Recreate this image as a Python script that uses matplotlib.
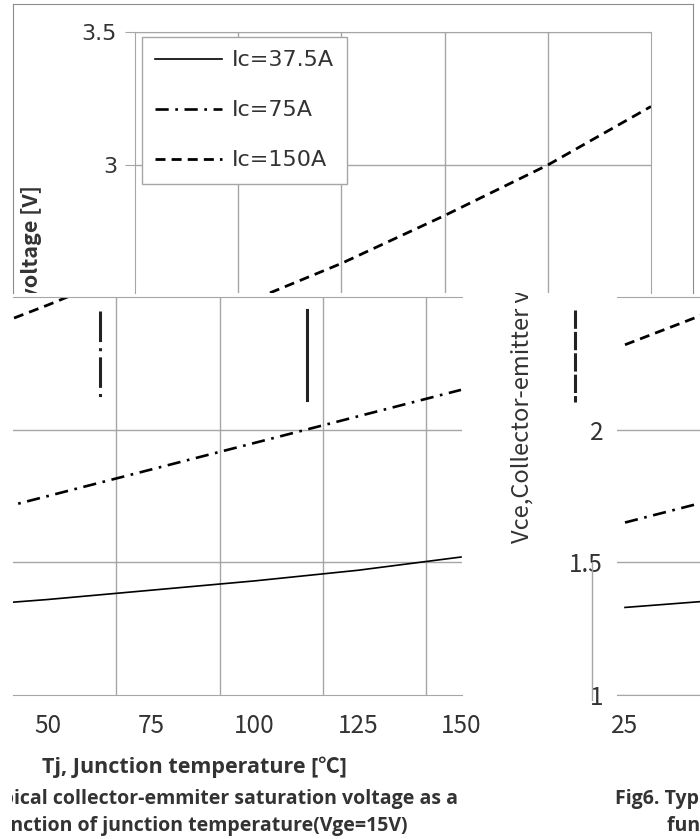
import matplotlib
matplotlib.use('Agg')
import matplotlib.pyplot as plt

W, H = 700, 839

# Vce(sat) vs junction temperature
tj = [25, 50, 75, 100, 125, 150]
vce_37 = [1.33, 1.36, 1.395, 1.43, 1.47, 1.52]
vce_75 = [1.65, 1.75, 1.85, 1.95, 2.05, 2.15]
vce_150 = [2.32, 2.47, 2.63, 2.81, 3.00, 3.22]
labels = ['Ic=37.5A', 'Ic=75A', 'Ic=150A']
series = [vce_37, vce_75, vce_150]

ylabel_text = 'Vce,Collector-emitter voltage [V]'
xlabel_text = 'Tj, Junction temperature [℃]'
caption1 = 'Fig6. Typical collector-emmiter saturation voltage as a'
caption2 = 'function of junction temperature(Vge=15V)'

GRID = '#a6a6a6'
TXT = '#333333'
plt.rcParams['font.family'] = ['Noto Sans CJK SC', 'DejaVu Sans']
TOP_FONT = ['DejaVu Sans']
CAP_FONT = ['Open Sans', 'Noto Sans CJK SC', 'DejaVu Sans']

styles = [dict(ls='-', lw=1.2),
          dict(ls=(0, (5, 2.5, 1, 2.5)), lw=1.9),
          dict(ls=(0, (3.6, 2.2)), lw=2.0)]

PX = 4.13          # pixels per degC
PV = 133 / 0.5     # pixels per volt


def rect(x0, y0, x1, y1):
    return [x0 / W, 1 - y1 / H, (x1 - x0) / W, (y1 - y0) / H]


def piece(x0, y0, x1, y1):
    # invisible axes in pixel coords, used to clip the collage pieces
    ax = fig.add_axes(rect(x0, y0, x1, y1))
    ax.set_xlim(x0, x1)
    ax.set_ylim(y1, y0)
    ax.axis('off')
    return ax


def draw_curves(ax):
    for ys, st, lab in zip(series, styles, labels):
        ax.plot(tj, ys, color='black', label=lab, **st)


fig = plt.figure(figsize=(W / 100, H / 100), dpi=100)
fig.patch.set_facecolor('white')

# ─── top piece: chart frame with legend ───
axf = fig.add_axes(rect(13, 4, 693, 293))
axf.set_xlim(13, 693)
axf.set_ylim(293, 4)
axf.set_xticks([])
axf.set_yticks([])
for s in axf.spines.values():
    s.set_color('#8c8c8c')
axf.spines['bottom'].set_visible(False)
axf.text(31, 185, ylabel_text, rotation=90, rotation_mode='anchor',
         ha='right', va='center', fontsize=15.5, fontweight='bold',
         color=TXT, clip_on=True)

ax1 = fig.add_axes(rect(135, 32, 651, 293))
ax1.patch.set_alpha(0)
draw_curves(ax1)
ax1.set_xlim(25, 150)
ax1.set_ylim(3.5 - 261 / PV, 3.5)
ax1.set_xticks([50, 75, 100, 125])
ax1.tick_params(axis='x', length=0, labelbottom=False)
ax1.set_yticks([3.0, 3.5])
ax1.set_yticklabels(['3', '3.5'])
ax1.tick_params(axis='y', length=7, color=GRID, pad=6, labelsize=16, labelcolor=TXT)
for t in ax1.get_yticklabels():
    t.set_family(TOP_FONT)
ax1.grid(color=GRID, lw=1)
ax1.spines['bottom'].set_visible(False)
for k in ['top', 'left', 'right']:
    ax1.spines[k].set_color(GRID)
leg = ax1.legend(loc='upper left', bbox_to_anchor=(7 / 516, 256 / 261),
                 borderaxespad=0, fancybox=False, edgecolor=GRID, framealpha=1,
                 prop=dict(family=TOP_FONT, size=16),
                 handlelength=3.0, labelspacing=1.35,
                 borderpad=0.6, handletextpad=0.45)
for t in leg.get_texts():
    t.set_color(TXT)

# ─── bottom-left piece: shifted copy of the plot ───
x0b, x1b, y0b, y1b = 13, 462, 297, 695
axg = fig.add_axes(rect(x0b, y0b, x1b, y1b))
axg.patch.set_alpha(0)
axg.set_xlim(25, 25 + (x1b - x0b) / PX)
axg.set_ylim(1, 2.5)
axg.set_xticks([50, 75, 100, 125])
axg.set_yticks([])
axg.tick_params(axis='x', length=0, labelbottom=False)
axg.grid(axis='x', color=GRID, lw=1)
for s in axg.spines.values():
    s.set_visible(False)

ax2 = fig.add_axes(rect(x0b, y0b, x1b, y1b))
ax2.patch.set_alpha(0)
draw_curves(ax2)
left_tj = 50 - (48 - x0b) / PX
ax2.set_xlim(left_tj, left_tj + (x1b - x0b) / PX)
ax2.set_ylim(1, 2.5)
ax2.set_xticks([50, 75, 100, 125, 150])
ax2.set_yticks([1.5, 2.0])
ax2.tick_params(axis='x', length=0, pad=13, labelsize=17.5, labelcolor=TXT)
ax2.tick_params(axis='y', length=0, labelleft=False)
ax2.grid(axis='y', color=GRID, lw=1)
for k in ['left', 'right']:
    ax2.spines[k].set_visible(False)
for k in ['top', 'bottom']:
    ax2.spines[k].set_color(GRID)

axp2 = piece(12, 293, 468, 839)
axp2.text(194, 767, xlabel_text, ha='center', va='center', fontsize=15.5,
          fontweight='bold', family=CAP_FONT, color=TXT, clip_on=True)
axp2.text(458, 799, caption1, ha='right', va='center', fontsize=14,
          fontweight='bold', family=CAP_FONT, color=TXT, clip_on=True)
axp2.text(408, 826, caption2, ha='right', va='center', fontsize=14,
          fontweight='bold', family=CAP_FONT, color=TXT, clip_on=True)
# rotated legend fragments left in the collage
axp2.plot([100, 100], [311, 402], color='#222222', lw=2.2, ls=(0, (10, 2, 1, 2)))
axp2.plot([307, 307], [310, 400], color='#222222', lw=2.2)

# ─── bottom-right piece: left edge of the plot ───
ax3 = fig.add_axes(rect(617, y0b, 700, y1b))
ax3.patch.set_alpha(0)
draw_curves(ax3)
ax3.set_xlim(25 - 8 / PX, 25 + 75 / PX)
ax3.set_ylim(1, 2.5)
ax3.set_xticks([25])
ax3.set_yticks([1.0, 1.5, 2.0])
ax3.set_yticklabels(['1', '1.5', '2'])
ax3.tick_params(axis='x', length=0, pad=13, labelsize=17.5, labelcolor=TXT)
ax3.tick_params(axis='y', length=0, pad=10, labelsize=17.5, labelcolor=TXT)
ax3.grid(axis='y', color=GRID, lw=1)
for k in ['left', 'right']:
    ax3.spines[k].set_visible(False)
for k in ['top', 'bottom']:
    ax3.spines[k].set_color(GRID)

axp3 = piece(468, 293, 700, 839)
axp3.text(523, 543, ylabel_text, rotation=90, rotation_mode='anchor',
          ha='left', va='center', fontsize=17, color=TXT, clip_on=True)
axp3.text(615, 799, caption1, ha='left', va='center', fontsize=14,
          fontweight='bold', family=CAP_FONT, color=TXT, clip_on=True)
axp3.text(667, 826, caption2, ha='left', va='center', fontsize=14,
          fontweight='bold', family=CAP_FONT, color=TXT, clip_on=True)
axp3.plot([592, 592], [563, 700], color=GRID, lw=1)
axp3.plot([575, 575], [310, 402], color='#222222', lw=2.2, ls=(0, (6, 1)))

fig.savefig('out.png', dpi=100, facecolor='white')
